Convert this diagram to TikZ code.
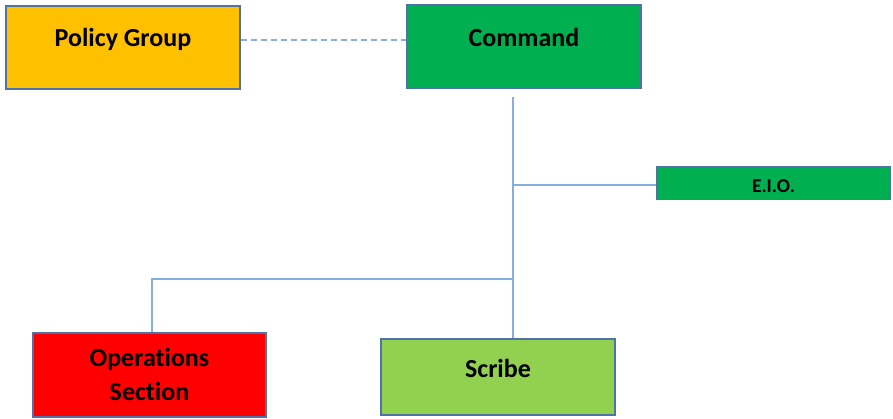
\documentclass[tikz,border=0pt]{standalone}
\usepackage{fontspec}
\setmainfont[Ligatures=NoCommon]{Carlito}
\definecolor{bordc}{HTML}{4F72A8}
\definecolor{linec}{HTML}{86AEDE}
\definecolor{pgold}{HTML}{FFC000}
\definecolor{cgreen}{HTML}{00B050}
\definecolor{ored}{HTML}{FF0000}
\definecolor{sgreen}{HTML}{92D050}
\tikzset{
  box/.style={draw=bordc, line width=1.3pt, inner sep=0pt, rectangle},
  lbl/.style={font=\fontsize{26}{34}\selectfont\bfseries, align=center, inner sep=0pt, text=black},
  smalllbl/.style={font=\fontsize{19.5}{22}\selectfont\bfseries, inner sep=0pt, text=black},
  conn/.style={draw=linec, line width=1.3pt},
  dconn/.style={draw=linec, line width=1.1pt, dash pattern=on 6pt off 4pt}
}
\begin{document}
\begin{tikzpicture}[x=1pt,y=-1pt]
\useasboundingbox (0,0) rectangle (893,419);
% boxes
\node[box, fill=pgold, minimum width=234, minimum height=83] (pg) at (123,47.5) {};
\node[lbl] (pgt) at ([yshift=8.5]pg.center) {Policy Group};
\node[box, fill=cgreen, minimum width=234, minimum height=83] (cmd) at (524,46.5) {};
\node[lbl] (cmdt) at ([yshift=9.5]cmd.center) {Command};
\node[box, fill=cgreen, minimum width=233, minimum height=33] (eio) at (773.5,183) {};
\node[smalllbl] (eiot) at ([yshift=-3]eio.center) {E.I.O.};
\node[box, fill=ored, minimum width=233, minimum height=84] (ops) at (149.5,375) {};
\node[lbl] (opst) at ([yshift=1]ops.center) {Operations\\Section};
\node[box, fill=sgreen, minimum width=234, minimum height=76] (scr) at (498,377) {};
\node[lbl] (scrt) at ([yshift=9]scr.center) {Scribe};
% connectors
\coordinate (trunk) at (513,97);
\coordinate (jn) at (513,279);
\draw[dconn] ([yshift=7.5]pg.east) -- ([yshift=7.5]pg.east -| cmd.west);
\draw[conn] (trunk) -- (trunk |- scr.north);
\draw[conn] ([yshift=-2]trunk |- eio.west) -- ([yshift=-2]eio.west);
\draw[conn] (jn) -| ([xshift=2.5]ops.north);
\end{tikzpicture}
\end{document}
